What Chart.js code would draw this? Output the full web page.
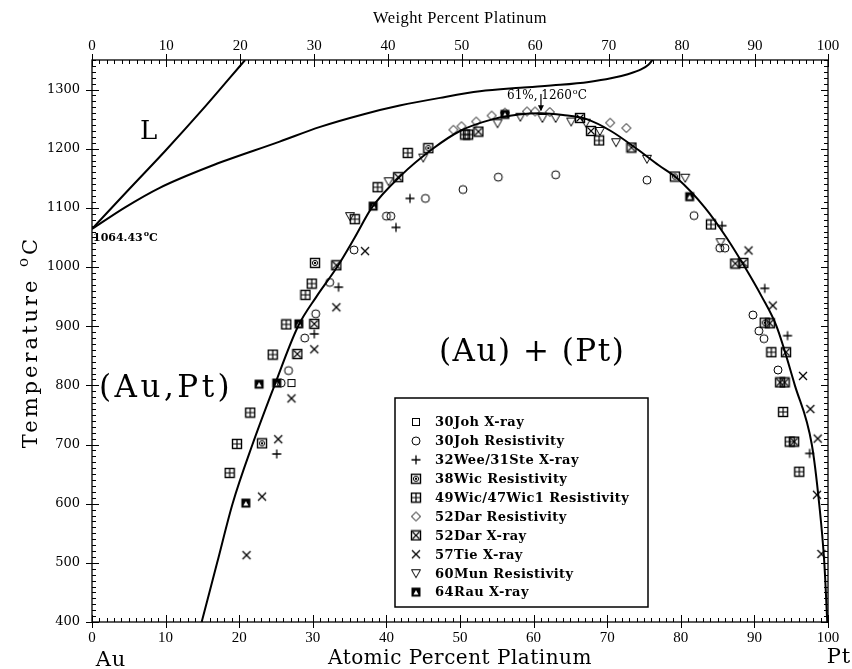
<!DOCTYPE html>
<html><head><meta charset="utf-8">
<script src="https://cdn.jsdelivr.net/npm/chart.js@4/dist/chart.umd.min.js"></script>
<style>html,body{margin:0;padding:0;background:#fff}canvas{display:block}</style>
</head><body>
<canvas id="c" width="852" height="669"></canvas>
<script>
// ---------- data (atomic % Pt, temperature °C) ----------
const liquidusX = [0, 5, 10, 15, 20.8];
const liquidusT = [1064.43, 1131, 1197, 1266, 1350];
const solidusX = [0, 4.5, 9.2, 16, 25.5, 31, 36.8, 41.8, 47.3, 52.7, 58.2, 63.6, 67.5, 70.5, 72.8, 74.6, 75.6, 76.2];
const solidusT = [1064.43, 1101, 1134, 1170, 1212, 1237, 1258, 1273, 1286, 1297, 1303, 1308, 1313, 1319, 1326, 1334, 1342, 1351];
const solvusX = [14.9, 17.0, 19.1, 21.8, 24.8, 28.0, 30.5, 33.3, 35.7, 38.0, 42.0, 46.3, 50.0, 54.5, 58.0, 61.0, 64.0, 67.2, 70.5, 74.0, 77.0, 79.5, 83.3, 86.2, 88.7, 91.0, 93.0, 95.5, 97.8, 98.8, 99.5, 99.9];
const solvusT = [400, 500, 600, 700, 800, 900, 950, 1000, 1050, 1100, 1155, 1200, 1230, 1250, 1258, 1260, 1257, 1250, 1230, 1200, 1172, 1150, 1100, 1050, 1000, 950, 900, 800, 700, 600, 500, 400];

const joh30XrayX = [27.1];
const joh30XrayT = [804];
const joh30ResX = [25.7, 26.7, 28.9, 30.4, 32.3, 35.6, 40.0, 40.6, 45.3, 50.4, 55.2, 63.0, 75.4, 81.8, 85.3, 86.0, 89.8, 90.6, 91.3, 93.2];
const joh30ResT = [804, 825, 880, 921, 974, 1029, 1086, 1086, 1116, 1131, 1152, 1156, 1147, 1087, 1032, 1032, 919, 892, 879, 826];
const wee32X = [25.1, 30.2, 33.5, 41.3, 43.2, 85.6, 91.4, 94.5, 97.5];
const wee32T = [684, 887, 966, 1067, 1116, 1070, 964, 884, 685];
const wic38X = [23.1, 30.3, 45.7, 79.2, 91.4];
const wic38T = [702, 1007, 1201, 1153, 906];
const wic49X = [18.7, 19.7, 21.5, 24.55, 26.4, 29.0, 29.85, 35.7, 38.8, 42.9, 50.7, 51.1, 68.9, 84.1, 92.3, 93.9, 94.8, 96.1];
const wic49T = [652, 701, 754, 852, 903, 953, 972, 1081, 1135, 1193, 1224, 1224, 1214, 1072, 856, 755, 705, 654];
const dar52ResX = [49.1, 50.2, 52.2, 54.3, 56.1, 59.1, 60.2, 62.2, 70.4, 72.6];
const dar52ResT = [1232, 1238, 1246, 1256, 1261, 1263, 1263, 1262, 1244, 1235];
const dar52XrayX = [27.9, 30.2, 33.2, 41.6, 52.5, 66.3, 67.8, 73.3, 87.4, 88.5, 92.1, 94.3, 93.5, 94.1, 95.4];
const dar52XrayT = [853, 904, 1003, 1152, 1229, 1252, 1230, 1202, 1006, 1007, 905, 856, 805, 805, 705];
const tie57X = [21.0, 23.1, 25.3, 27.1, 30.2, 33.2, 37.1, 89.2, 92.5, 96.6, 97.6, 98.6, 98.5, 99.1];
const tie57T = [513, 612, 709, 778, 861, 932, 1027, 1028, 935, 816, 760, 710, 615, 515];
const mun60X = [35.05, 40.3, 45.0, 55.1, 58.2, 61.2, 63.0, 65.1, 67.1, 69.0, 71.2, 75.4, 80.6, 85.4];
const mun60T = [1086, 1145, 1185, 1243, 1254, 1252, 1252, 1246, 1244, 1230, 1211, 1183, 1151, 1042];
const rau64X = [20.9, 22.7, 25.1, 28.1, 38.2, 56.1, 81.2];
const rau64T = [601, 802, 804, 904, 1103, 1258, 1119];

const weightTicks = [0, 10, 20, 30, 40, 50, 60, 70, 80, 90, 100];
const tempTicks = [400, 500, 600, 700, 800, 900, 1000, 1100, 1200, 1300];
const atomicTicks = [0, 10, 20, 30, 40, 50, 60, 70, 80, 90, 100];

// ---------- helpers ----------
const pts = (xs, ys) => xs.map((x, i) => ({x: x, y: ys[i]}));
const wtToAt = w => { const p = w / 195.08, a = (100 - w) / 196.97; return 100 * p / (p + a); };

function mk(draw) {
  const c = document.createElement('canvas'); c.width = 12; c.height = 12;
  const g = c.getContext('2d'); g.strokeStyle = '#000'; g.fillStyle = '#000'; g.lineWidth = 1;
  draw(g); return c;
}
const symSquare = mk(g => { g.strokeRect(2.5, 2.5, 7, 7); });
const symCircle = mk(g => { g.beginPath(); g.arc(6, 6, 4, 0, 2 * Math.PI); g.stroke(); });
const symPlus = mk(g => { g.lineWidth = 1.3; g.beginPath(); g.moveTo(6, 1.5); g.lineTo(6, 10.5); g.moveTo(1.5, 6); g.lineTo(10.5, 6); g.stroke(); });
const symWic38 = mk(g => { g.lineWidth = 1.4; g.strokeRect(1.5, 1.5, 9, 9); g.lineWidth = 1; g.beginPath(); g.arc(6, 6, 2.6, 0, 2 * Math.PI); g.stroke(); g.fillRect(5, 5, 2, 2); });
const symWic49 = mk(g => { g.lineWidth = 1.4; g.strokeRect(1.5, 1.5, 9, 9); g.lineWidth = 1.2; g.beginPath(); g.moveTo(6, 2); g.lineTo(6, 10); g.moveTo(2, 6); g.lineTo(10, 6); g.stroke(); });
const symDiamond = mk(g => { g.beginPath(); g.moveTo(6, 1.5); g.lineTo(10.5, 6); g.lineTo(6, 10.5); g.lineTo(1.5, 6); g.closePath(); g.stroke(); });
const symDarX = mk(g => { g.lineWidth = 1.4; g.strokeRect(1.5, 1.5, 9, 9); g.lineWidth = 1.1; g.beginPath(); g.moveTo(2.5, 2.5); g.lineTo(9.5, 9.5); g.moveTo(9.5, 2.5); g.lineTo(2.5, 9.5); g.stroke(); });
const symCross = mk(g => { g.lineWidth = 1.3; g.beginPath(); g.moveTo(2, 2); g.lineTo(10, 10); g.moveTo(10, 2); g.lineTo(2, 10); g.stroke(); });
const symTriDown = mk(g => { g.beginPath(); g.moveTo(1.5, 2.5); g.lineTo(10.5, 2.5); g.lineTo(6, 10.5); g.closePath(); g.stroke(); });
const symRau = mk(g => { g.fillRect(1.5, 1.5, 9, 9); g.fillStyle = '#fff'; g.beginPath(); g.moveTo(6, 4); g.lineTo(8.5, 8.5); g.lineTo(3.5, 8.5); g.closePath(); g.fill(); });

const lineDs = (xs, ys) => ({type: 'line', data: pts(xs, ys), borderColor: '#000', borderWidth: 2, pointRadius: 0, fill: false, cubicInterpolationMode: 'monotone', isCurve: true});
const ptDs = (label, xs, ys, sym) => ({type: 'scatter', label: label, data: pts(xs, ys), pointStyle: sym, pointRadius: 6, showLine: false, borderColor: '#000', backgroundColor: '#000'});

const datasets = [
  lineDs(liquidusX, liquidusT),
  lineDs(solidusX, solidusT),
  lineDs(solvusX, solvusT),
  ptDs('30Joh X-ray', joh30XrayX, joh30XrayT, symSquare),
  ptDs('30Joh Resistivity', joh30ResX, joh30ResT, symCircle),
  ptDs('32Wee/31Ste X-ray', wee32X, wee32T, symPlus),
  ptDs('38Wic Resistivity', wic38X, wic38T, symWic38),
  ptDs('49Wic/47Wic1 Resistivity', wic49X, wic49T, symWic49),
  ptDs('52Dar Resistivity', dar52ResX, dar52ResT, symDiamond),
  ptDs('52Dar X-ray', dar52XrayX, dar52XrayT, symDarX),
  ptDs('57Tie X-ray', tie57X, tie57T, symCross),
  ptDs('60Mun Resistivity', mun60X, mun60T, symTriDown),
  ptDs('64Rau X-ray', rau64X, rau64T, symRau)
];

const SERIF = '"DejaVu Serif", serif';
const LSERIF = '"Liberation Serif", serif';

function supText(ctx, x, y, base, sup, tail, size, bold, family) {
  const w = bold ? 'bold ' : '';
  ctx.font = w + size + 'px ' + family;
  ctx.textBaseline = 'alphabetic'; ctx.textAlign = 'left';
  ctx.fillText(base, x, y); let cx = x + ctx.measureText(base).width;
  ctx.font = w + Math.round(size * 0.7) + 'px ' + family;
  ctx.fillText(sup, cx + 1, y - size * 0.45); cx += ctx.measureText(sup).width + 1;
  ctx.font = w + size + 'px ' + family;
  ctx.fillText(tail, cx, y);
  return cx + ctx.measureText(tail).width - x;
}
function measureSup(ctx, base, sup, tail, size, family) {
  ctx.font = size + 'px ' + family; let w = ctx.measureText(base).width + ctx.measureText(tail).width;
  ctx.font = Math.round(size * 0.7) + 'px ' + family; w += ctx.measureText(sup).width + 1;
  return w;
}

const decor = {
  id: 'decor',
  afterDatasetsDraw(chart) {
    const ctx = chart.ctx, a = chart.chartArea;
    const xs = chart.scales.x, ys = chart.scales.y;
    ctx.save();
    ctx.strokeStyle = '#000'; ctx.fillStyle = '#000';
    // frame
    ctx.lineWidth = 1.3;
    ctx.strokeRect(a.left, a.top, a.right - a.left, a.bottom - a.top);
    ctx.lineWidth = 1;
    ctx.beginPath();
    for (let v = 0; v <= 100; v++) {
      const px = Math.round(xs.getPixelForValue(v)) + 0.5;
      const pt = Math.round(xs.getPixelForValue(wtToAt(v))) + 0.5;
      if (v % 10 === 0) {
        ctx.moveTo(px, a.bottom + 6); ctx.lineTo(px, a.bottom - 7);
        ctx.moveTo(pt, a.top - 6); ctx.lineTo(pt, a.top + 7);
      } else {
        ctx.moveTo(px, a.bottom); ctx.lineTo(px, a.bottom - 4);
        ctx.moveTo(pt, a.top); ctx.lineTo(pt, a.top + 4);
      }
    }
    for (let t = 400; t <= 1350; t += 10) {
      const py = Math.round(ys.getPixelForValue(t)) + 0.5;
      if (t % 100 === 0) {
        ctx.moveTo(a.left - 6, py); ctx.lineTo(a.left + 7, py);
        ctx.moveTo(a.right, py); ctx.lineTo(a.right - 7, py);
      } else {
        ctx.moveTo(a.left, py); ctx.lineTo(a.left + 4, py);
        ctx.moveTo(a.right, py); ctx.lineTo(a.right - 4, py);
      }
    }
    ctx.stroke();

    // axis titles
    ctx.textAlign = 'center'; ctx.textBaseline = 'middle';
    ctx.font = '16.5px ' + LSERIF;
    ctx.letterSpacing = '0.4px';
    ctx.fillText('Weight Percent Platinum', (a.left + a.right) / 2, 19);
    ctx.font = '20px ' + SERIF;
    ctx.letterSpacing = '0.5px';
    ctx.fillText('Atomic Percent Platinum', (a.left + a.right) / 2, 659);
    ctx.font = '21px ' + SERIF;
    ctx.letterSpacing = '1px';
    ctx.fillText('Au', 111, 661);
    ctx.fillText('Pt', 839, 658);
    // y title rotated
    ctx.save();
    ctx.translate(30, 342); ctx.rotate(-Math.PI / 2);
    ctx.letterSpacing = '3px';
    const total = measureSup(ctx, 'Temperature ', 'o', 'C', 21, SERIF);
    supText(ctx, -total / 2, 7, 'Temperature ', 'o', 'C', 21, false, SERIF);
    ctx.restore();
    ctx.letterSpacing = '0px';

    // phase labels
    ctx.textAlign = 'left'; ctx.textBaseline = 'alphabetic';
    ctx.font = '26px ' + SERIF;
    ctx.fillText('L', 140, 139);
    ctx.font = '31px ' + SERIF;
    ctx.letterSpacing = '3.5px';
    ctx.fillText('(Au,Pt)', 99, 397);
    ctx.letterSpacing = '1.5px';
    ctx.fillText('(Au) + (Pt)', 439, 361);
    ctx.letterSpacing = '0px';
    // melting point / maximum annotations
    supText(ctx, a.left + 1, 241, '1064.43', 'o', 'C', 11, true, SERIF);
    supText(ctx, 507, 99, '61%, 1260', 'o', 'C', 12, false, SERIF);
    const ax = xs.getPixelForValue(61), ay = ys.getPixelForValue(1260);
    ctx.lineWidth = 1.2;
    ctx.beginPath(); ctx.moveTo(ax, 94); ctx.lineTo(ax, ay - 3); ctx.stroke();
    ctx.beginPath(); ctx.moveTo(ax - 3, ay - 8); ctx.lineTo(ax + 3, ay - 8); ctx.lineTo(ax, ay - 2); ctx.closePath(); ctx.fill();

    // legend box
    const bx = 395, by = 398, bw = 253, bh = 209;
    ctx.fillStyle = '#fff'; ctx.fillRect(bx, by, bw, bh);
    ctx.fillStyle = '#000'; ctx.lineWidth = 1.5; ctx.strokeRect(bx, by, bw, bh);
    ctx.font = 'bold 13px ' + SERIF; ctx.textBaseline = 'middle';
    ctx.letterSpacing = '0.4px';
    let row = 0;
    chart.data.datasets.forEach(ds => {
      if (ds.isCurve) return;
      const yy = 422 + row * 18.9;
      ctx.drawImage(ds.pointStyle, 416 - 6, yy - 6);
      ctx.fillText(ds.label, 435, yy + 1);
      row++;
    });
    ctx.restore();
  }
};

new Chart(document.getElementById('c'), {
  data: {datasets: datasets},
  options: {
    responsive: false, animation: false, devicePixelRatio: 1,
    layout: {padding: 0},
    plugins: {legend: {display: false}, tooltip: {enabled: false}},
    scales: {
      x: {type: 'linear', position: 'bottom', min: 0, max: 100,
        afterBuildTicks: s => { s.ticks = atomicTicks.map(v => ({value: v})); },
        afterFit: s => { s.height = 47; },
        grid: {display: false, drawTicks: false, tickLength: 0}, border: {display: false},
        ticks: {font: {family: LSERIF, size: 15}, color: '#000', padding: 7, maxRotation: 0, autoSkip: false, callback: v => String(v)}},
      x2: {type: 'linear', position: 'top', min: 0, max: 100,
        afterBuildTicks: s => { s.ticks = weightTicks.map(v => ({value: wtToAt(v)})); },
        afterTickToLabelConversion: s => { s.ticks.forEach((t, i) => { t.label = String(weightTicks[i]); }); },
        afterFit: s => { s.height = 60; },
        grid: {display: false, drawTicks: false, tickLength: 0}, border: {display: false},
        ticks: {font: {family: LSERIF, size: 15}, color: '#000', padding: 5, maxRotation: 0, autoSkip: false}},
      y: {type: 'linear', position: 'left', min: 400, max: 1350,
        afterBuildTicks: s => { s.ticks = tempTicks.map(v => ({value: v})); },
        afterFit: s => { s.width = 92; },
        grid: {display: false, drawTicks: false, tickLength: 0}, border: {display: false},
        ticks: {font: {family: SERIF, size: 13}, color: '#000', padding: 12, callback: v => String(v)}},
      y2: {type: 'linear', position: 'right', min: 400, max: 1350,
        afterFit: s => { s.width = 24; },
        grid: {display: false, drawTicks: false, tickLength: 0}, border: {display: false},
        ticks: {display: false}}
    }
  },
  plugins: [decor]
});
</script>
</body></html>
